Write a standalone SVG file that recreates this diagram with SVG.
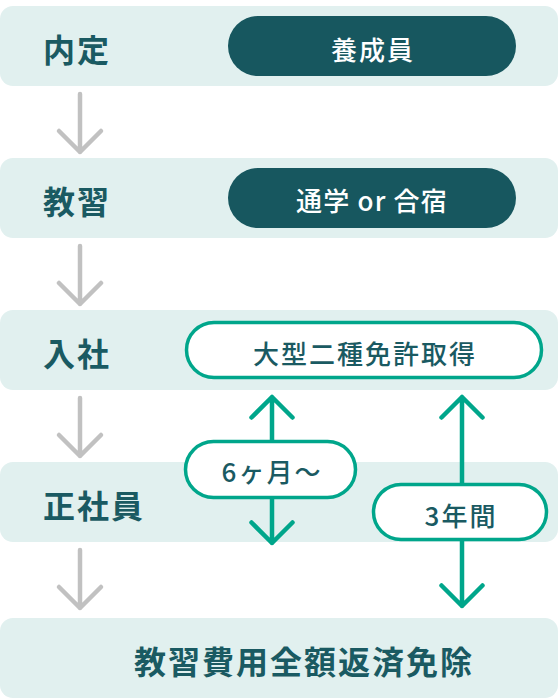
<svg xmlns="http://www.w3.org/2000/svg" width="558" height="698" viewBox="0 0 558 698">
<style>
.band{fill:#e1f0ef}
.lbl{font-family:"Noto Sans CJK JP","Noto Sans",sans-serif;font-weight:700;font-size:32px;letter-spacing:2px;fill:#1a5a62;dominant-baseline:central}
.dark{fill:#17575f}
.wt{font-family:"Noto Sans CJK JP","Noto Sans",sans-serif;font-weight:500;font-size:26px;letter-spacing:2px;fill:#ffffff;text-anchor:middle;dominant-baseline:central}
.out{fill:#ffffff;stroke:#00a68b;stroke-width:3.5}
.dt{font-family:"Noto Sans CJK JP","Noto Sans",sans-serif;font-weight:500;font-size:26px;letter-spacing:2px;fill:#1a5a62;text-anchor:middle;dominant-baseline:central}
.gray{fill:none;stroke:#c1c1c1;stroke-width:4.5;stroke-linecap:round;stroke-linejoin:round}
.grn{fill:none;stroke:#00a68b;stroke-width:4.5;stroke-linecap:round;stroke-linejoin:round}
</style>
<g id="naitei">
<rect class="band" x="0" y="6" width="558" height="80" rx="13"/>
<text class="lbl" x="43" y="48">内定</text>
</g>
<g id="kyoshu">
<rect class="band" x="0" y="158" width="558" height="80" rx="13"/>
<text class="lbl" x="43" y="200">教習</text>
</g>
<g id="nyusha">
<rect class="band" x="0" y="310" width="558" height="80" rx="13"/>
<text class="lbl" x="43" y="352">入社</text>
</g>
<g id="seishain">
<rect class="band" x="0" y="462" width="558" height="80" rx="13"/>
<text class="lbl" x="43" y="504">正社員</text>
</g>
<g id="menjo">
<rect class="band" x="0" y="618" width="558" height="80" rx="13"/>
<text class="lbl" x="134" y="660">教習費用全額返済免除</text>
</g>
<g id="yoseiin">
<rect class="dark" x="228" y="16" width="288" height="60" rx="30"/>
<text class="wt" x="373" y="48">養成員</text>
</g>
<g id="tsugaku">
<rect class="dark" x="228" y="168" width="288" height="60" rx="30"/>
<text class="wt" x="372" y="199" style="letter-spacing:1.2px">通学 or 合宿</text>
</g>
<g id="menkyo">
<rect class="out" x="186.5" y="322.5" width="355" height="55" rx="27.5"/>
<text class="dt" x="365" y="352">大型二種免許取得</text>
</g>
<g id="connectors">
<path class="gray" d="M80 94V152M59 131L80 152L101 131"/>
<path class="gray" d="M80 246V304M59 283L80 304L101 283"/>
<path class="gray" d="M80 398V456M59 435L80 456L101 435"/>
<path class="gray" d="M80 550V608M59 587L80 608L101 587"/>
<path class="grn" d="M272 397V543M251.5 417.5L272 397L292.5 417.5M251.5 522.5L272 543L292.5 522.5"/>
<path class="grn" d="M462 397V606M441.5 417.5L462 397L482.5 417.5M441.5 585.5L462 606L482.5 585.5"/>
</g>
<g id="rokkagetsu">
<rect class="out" x="185.5" y="441.5" width="170" height="56" rx="28"/>
<text class="dt" x="272" y="470">6ヶ月～</text>
</g>
<g id="sannenkan">
<rect class="out" x="373.5" y="484.5" width="173" height="55" rx="27.5"/>
<text class="dt" x="461" y="514">3年間</text>
</g>
</svg>
